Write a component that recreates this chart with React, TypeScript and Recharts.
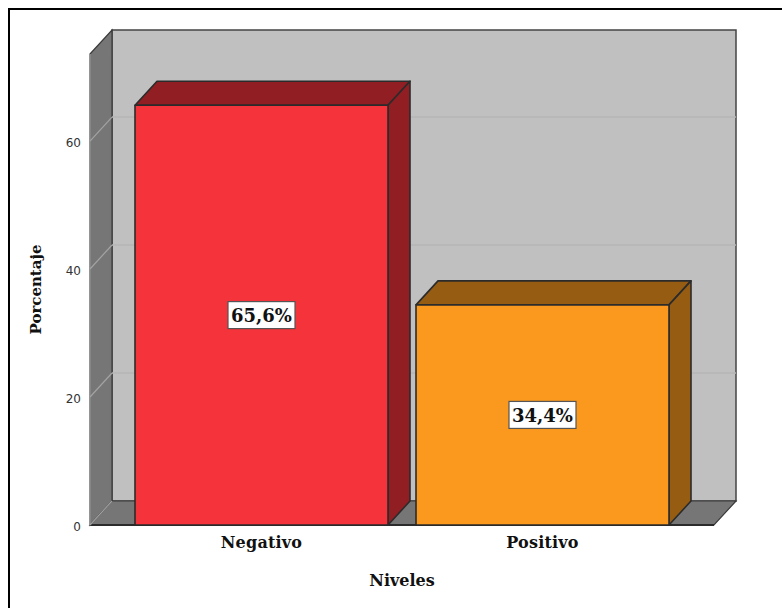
import React from 'react';
import { BarChart, Bar, XAxis, YAxis, CartesianGrid, LabelList, usePlotArea } from 'recharts';

const categories = ['Negativo', 'Positivo'];
const percentages = [65.6, 34.4];
const frontColors = ['#f4333a', '#fb991e'];
const sideColors = ['#911e22', '#965c12'];
const yTicks = [0, 20, 40, 60];

const rows = categories.map((nivel, i) => ({ nivel, porcentaje: percentages[i] }));

const DEPTH_X = 22;
const DEPTH_Y = 24;
const EDGE = '#2b2b2b';
const serifBold = { fontFamily: '"DejaVu Serif", serif', fontWeight: 700, fill: '#111' };

// Back wall, side wall and floor of the 3D box, sized from the plot area.
function Walls() {
  const area = usePlotArea();
  if (!area) return null;
  const { x, y, width, height } = area;
  const r = x + width;
  const b = y + height;
  const pts = (p: number[][]) => p.map((q) => q.join(',')).join(' ');
  return (
    <g>
      <rect x={x + DEPTH_X} y={y - DEPTH_Y} width={width} height={height} fill="#c0c0c0" stroke="#444" strokeWidth={1.5} />
      <polygon
        points={pts([[x, y], [x + DEPTH_X, y - DEPTH_Y], [x + DEPTH_X, b - DEPTH_Y], [x, b]])}
        fill="#767676"
        stroke="#3a3a3a"
        strokeWidth={1.2}
      />
      <polygon
        points={pts([[x, b], [x + DEPTH_X, b - DEPTH_Y], [r + DEPTH_X, b - DEPTH_Y], [r, b]])}
        fill="#767676"
        stroke="#3a3a3a"
        strokeWidth={1.2}
      />
      <line x1={x} y1={y} x2={x} y2={b} stroke="#999" strokeWidth={1.5} />
      <line x1={x} y1={b} x2={r} y2={b} stroke={EDGE} strokeWidth={1.8} />
    </g>
  );
}

// Each grid line runs up the side wall and then across the back wall.
function GridLine(props: any) {
  const { x1, x2, y1 } = props;
  const atFloor = Math.abs(y1 - 525) < 1;
  return (
    <g>
      <line x1={x1} y1={y1} x2={x1 + DEPTH_X} y2={y1 - DEPTH_Y} stroke="#a3a3a3" strokeWidth={1.2} />
      {!atFloor && (
        <line x1={x1 + DEPTH_X} y1={y1 - DEPTH_Y} x2={x2 + DEPTH_X} y2={y1 - DEPTH_Y} stroke="#b6b6b6" strokeWidth={1.5} />
      )}
    </g>
  );
}

function Box3D(props: any) {
  const { x, y, width, height, index } = props;
  const r = x + width;
  const b = y + height;
  const pts = (p: number[][]) => p.map((q) => q.join(',')).join(' ');
  const common = { stroke: EDGE, strokeWidth: 1.6, strokeLinejoin: 'round' as const };
  return (
    <g>
      <polygon
        points={pts([[x, y], [x + DEPTH_X, y - DEPTH_Y], [r + DEPTH_X, y - DEPTH_Y], [r, y]])}
        fill={sideColors[index]}
        {...common}
      />
      <polygon
        points={pts([[r, y], [r + DEPTH_X, y - DEPTH_Y], [r + DEPTH_X, b - DEPTH_Y], [r, b]])}
        fill={sideColors[index]}
        {...common}
      />
      <rect x={x} y={y} width={width} height={height} fill={frontColors[index]} {...common} />
    </g>
  );
}

function ValueTag(props: any) {
  const { x, y, width, height, value } = props;
  const cx = x + width / 2;
  const cy = y + height / 2;
  const text = `${String(value).replace('.', ',')}%`;
  return (
    <g>
      <rect x={cx - 33.5} y={cy - 13.5} width={67} height={27} fill="#fff" stroke="#555" strokeWidth={1.2} />
      <text x={cx} y={cy + 7} textAnchor="middle" fontSize={18} {...serifBold}>
        {text}
      </text>
    </g>
  );
}

export default function App() {
  return (
    <div style={{ position: 'absolute', left: 0, top: 0, width: 782, height: 608 }}>
      <div
        style={{
          position: 'absolute',
          left: 8,
          top: 8,
          width: 774,
          height: 600,
          boxSizing: 'border-box',
          borderTop: '2px solid #000',
          borderLeft: '2px solid #000',
        }}
      />
      <BarChart
        width={782}
        height={608}
        data={rows}
        margin={{ top: 54, right: 68, bottom: 0, left: 0 }}
        style={{ position: 'absolute', left: 0, top: 0 }}
      >
        <Walls />
        <CartesianGrid vertical={false} horizontal={<GridLine />} horizontalValues={yTicks} zIndex={1} />
        <XAxis
          dataKey="nivel"
          axisLine={false}
          tickLine={false}
          padding={{ left: 31, right: 31 }}
          tickMargin={6}
          tick={{ fontSize: 16, letterSpacing: 0.2, ...serifBold }}
          height={83}
          label={{ value: 'Niveles', position: 'insideBottom', offset: 22, fontSize: 16, ...serifBold }}
        />
        <YAxis
          type="number"
          width={90}
          domain={[0, 73.6]}
          ticks={yTicks}
          axisLine={false}
          tickLine={false}
          tickMargin={3}
          tick={{ fontSize: 12, fill: '#333', fontFamily: '"DejaVu Sans", sans-serif', dy: 2 }}
          label={{ value: 'Porcentaje', angle: -90, position: 'insideLeft', offset: 36, fontSize: 15, textAnchor: 'middle', ...serifBold }}
        />
        <Bar dataKey="porcentaje" barSize={253} shape={<Box3D />} isAnimationActive={false}>
          <LabelList dataKey="porcentaje" content={<ValueTag />} />
        </Bar>
      </BarChart>
    </div>
  );
}
